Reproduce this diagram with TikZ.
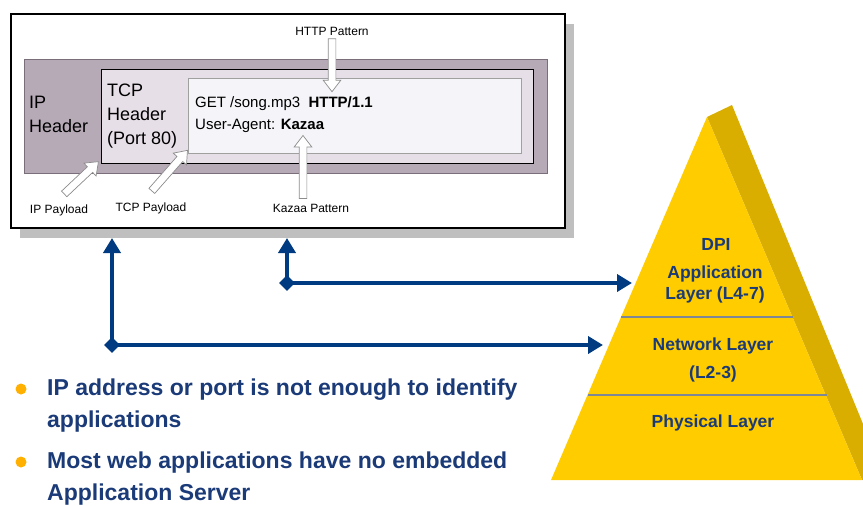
\documentclass[tikz,border=0pt]{standalone}
\usepackage{fontspec}
\setmainfont{Liberation Sans}
\usetikzlibrary{arrows.meta,shapes.geometric,shapes.arrows,shadows}

\definecolor{ipfill}{RGB}{183,170,183}
\definecolor{ipline}{RGB}{122,110,122}
\definecolor{tcpfill}{RGB}{231,223,231}
\definecolor{payfill}{RGB}{245,244,248}
\definecolor{payline}{RGB}{160,160,160}
\definecolor{shadowgray}{RGB}{191,191,191}
\definecolor{hollowgray}{RGB}{140,140,140}
\definecolor{linkblue}{RGB}{0,58,128}
\definecolor{textblue}{RGB}{26,58,120}
\definecolor{pyrfront}{RGB}{255,204,0}
\definecolor{pyrside}{RGB}{217,174,0}
\definecolor{layerline}{RGB}{125,135,150}
\definecolor{dotorange}{RGB}{255,176,0}

\tikzset{
  box/.style={anchor=north west, inner sep=0pt},
  hdr/.style={anchor=west, align=left, inner sep=0pt, font=\fontsize{18}{24}\selectfont},
  req/.style={anchor=west, align=left, inner sep=0pt, font=\fontsize{15}{22}\selectfont},
  tag/.style={inner sep=0pt, font=\fontsize{12}{14}\selectfont},
  hollow/.style={single arrow, draw=hollowgray, fill=white, line width=0.7pt,
    inner sep=3.5pt, single arrow head extend=5pt,
    single arrow tip angle=75, sloped, allow upside down},
  layer/.style={align=center, inner sep=0pt, text=textblue,
    font=\bfseries\fontsize{17.5}{21}\selectfont},
  junction/.style={diamond, fill=linkblue, inner sep=0pt, minimum size=16pt},
  link/.style={linkblue, line width=4.5pt, -{Triangle[length=15pt,width=17pt]}},
  dot/.style={circle, fill=dotorange, inner sep=0pt, minimum size=11pt},
  point/.style={anchor=west, align=left, inner sep=0pt, text=textblue,
    font=\bfseries\fontsize{23}{32}\selectfont}
}

\begin{document}
\begin{tikzpicture}[x=1pt,y=-1pt]
\useasboundingbox (0,0) rectangle (863,506);

% packet with its nested headers
\node[box, draw=black, line width=1.6pt, fill=white, minimum width=554pt, minimum height=214pt,
  drop shadow={opacity=1, fill=shadowgray, shadow xshift=9pt, shadow yshift=-10pt}] (frame) at (10,13) {};
\node[box, draw=ipline, line width=1pt, fill=ipfill, minimum width=523pt, minimum height=114pt] (ip) at (24,59) {};
\node[box, draw=black, line width=0.8pt, fill=tcpfill, minimum width=432pt, minimum height=94pt] (tcp) at (101,69) {};
\node[box, draw=payline, line width=0.8pt, fill=payfill, minimum width=333pt, minimum height=75pt] (pay) at (188,78) {};

\node[hdr] (iptext) at (29,114) {IP\\Header};
\node[hdr] (tcptext) at (107,116) {TCP\\Header\\(Port 80)};
\node[req] (reqtext) at (195,115) {GET /song.mp3\ \ \textbf{HTTP/1.1}\\User-Agent: \textbf{Kazaa}};

% pattern labels and their hollow arrows
\node[tag] (http) at (332,31) {HTTP Pattern};
\node[tag] (kazaa) at (311,208) {Kazaa Pattern};
\node[tag] (ippay) at (59,210) {IP Payload};
\node[tag] (tcppay) at (151,208) {TCP Payload};

\coordinate (httptip) at (332,90);
\coordinate (kazaatail) at (303,201);
\coordinate (kazaatip) at (303,138);
\coordinate (ippaytail) at (62,196);
\coordinate (ippaytip) at (97,163);
\coordinate (tcppaytail) at (150,193);
\coordinate (tcppaytip) at (186,152);

\path (http.south) -- node[hollow, minimum height=53pt] (httparrow) {} (httptip);
\path (kazaatail) -- node[hollow, minimum height=63pt] (kazaaarrow) {} (kazaatip);
\path (ippaytail) -- node[hollow, minimum height=47pt] (ippayarrow) {} (ippaytip);
\path (tcppaytail) -- node[hollow, minimum height=54pt] (tcppayarrow) {} (tcppaytip);

% DPI pyramid
\begin{scope}
\clip (0,0) rectangle (863,506);
\fill[pyrside] (707,117) -- (732,105) -- (884,475) -- (862,480) -- cycle;
\fill[pyrfront] (707,117) -- (551,480) -- (862,480) -- cycle;
\end{scope}
\draw[layerline, line width=1.5pt] (621,317) -- (793,317);
\draw[layerline, line width=1.5pt] (588,395) -- (827,395);

\node[layer] (dpi) at (716,244) {DPI};
\node[layer] (app) at (715,284) {Application\\Layer (L4-7)};
\node[layer] (net) at (713,346) {Network Layer};
\node[layer] (netl) at (713,374) {(L2-3)};
\node[layer] (phys) at (713,423) {Physical Layer};

% links from the pyramid back to the packet
\coordinate (frameedge) at (0,238);
\coordinate (apptip) at (632,283);
\coordinate (nettip) at (603,345);
\node[junction] (jpay) at (287,283) {};
\node[junction] (jhdr) at (112,345) {};
\draw[link] (jpay.center) -- (jpay.center |- frameedge);
\draw[link] (jpay.center) -- (apptip);
\draw[link] (jhdr.center) -- (jhdr.center |- frameedge);
\draw[link] (jhdr.center) -- (nettip);

% bullet points
\node[dot] (dot1) at (21,389) {};
\node[dot] (dot2) at (21,462) {};
\node[point] (point1) at (47,406) {IP address or port is not enough to identify\\applications};
\node[point] (point2) at (47,479) {Most web applications have no embedded\\Application Server};
\end{tikzpicture}
\end{document}
